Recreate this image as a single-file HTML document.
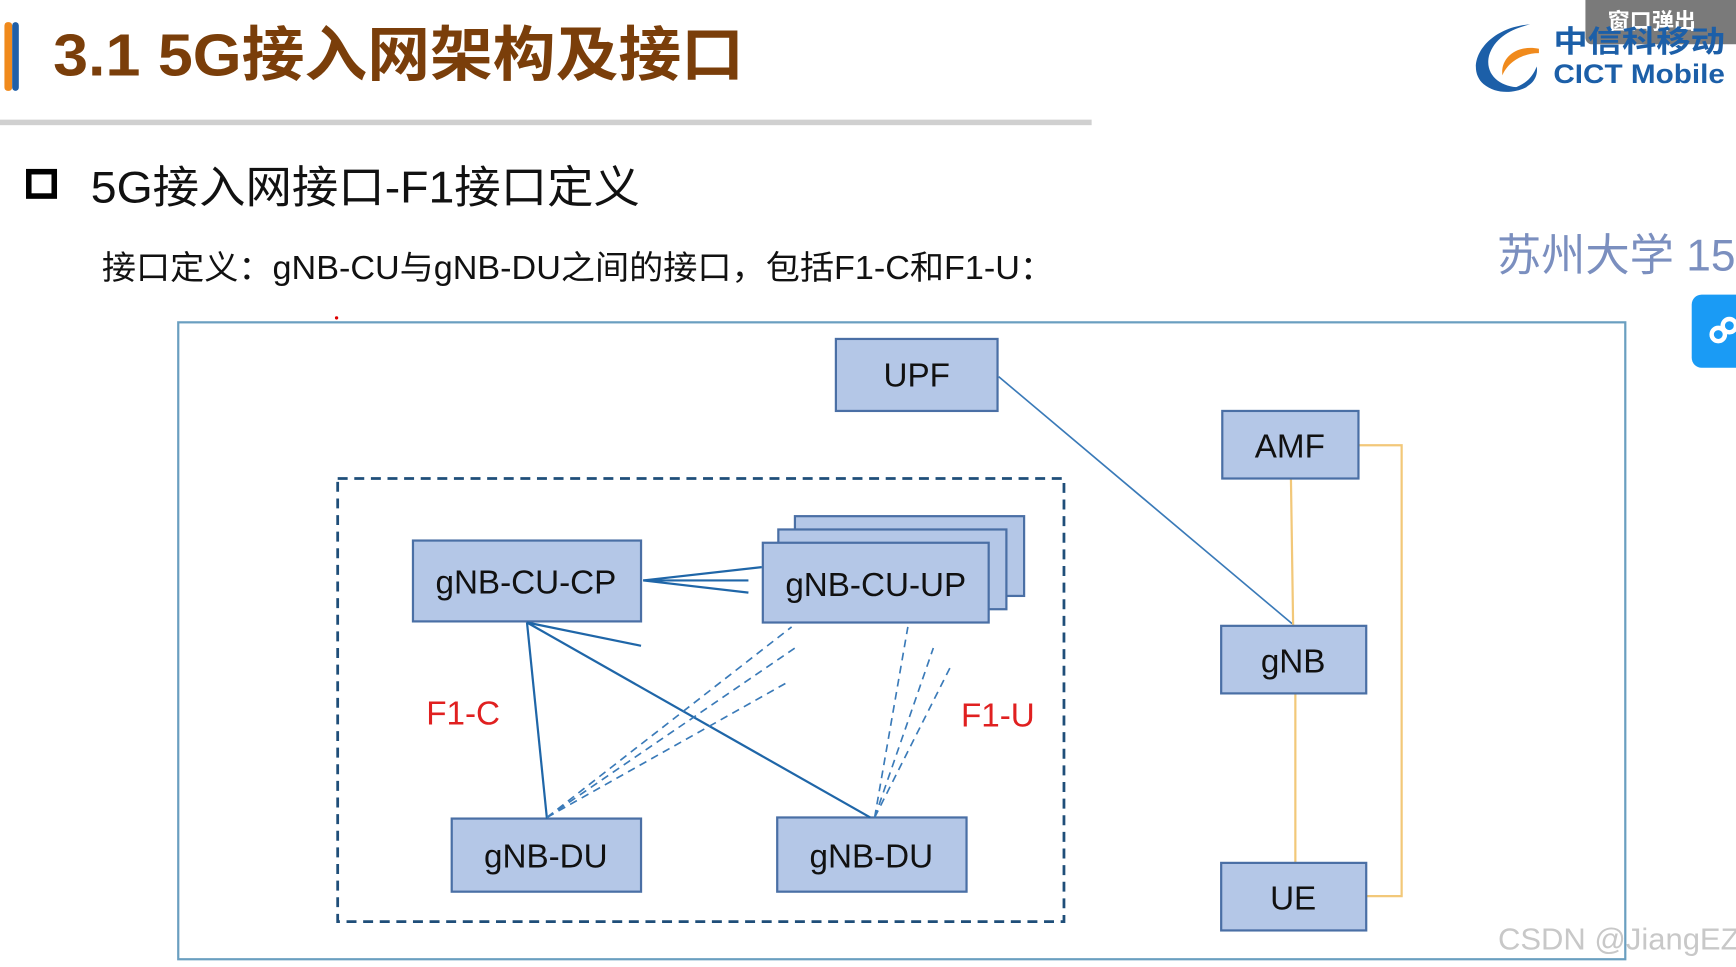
<!DOCTYPE html>
<html><head><meta charset="utf-8"><style>
html,body{margin:0;padding:0;background:#fff;width:1736px;height:967px;overflow:hidden}
svg{display:block}
text{font-family:"Liberation Sans","Noto Sans CJK SC",sans-serif}
</style></head><body>
<svg width="1736" height="967" viewBox="0 0 1568 873" preserveAspectRatio="none" xmlns="http://www.w3.org/2000/svg">
<rect x="0" y="0" width="1568" height="873" fill="#fff"/>
<rect x="4" y="20" width="7" height="62" rx="3" fill="#f08a1c"/>
<rect x="11" y="20" width="6" height="62" rx="3" fill="#1f5fa8"/>
<text x="48" y="68" font-size="54" font-weight="bold" fill="#7a3e0a" textLength="624" lengthAdjust="spacingAndGlyphs">3.1 5G接入网架构及接口</text>
<rect x="0" y="108" width="986" height="5" fill="#d0d0d0"/>
<rect x="26" y="155" width="23" height="22" fill="none" stroke="#000" stroke-width="5"/>
<text x="82" y="183" font-size="40" fill="#111" textLength="496" lengthAdjust="spacingAndGlyphs">5G接入网接口-F1接口定义</text>
<text x="92" y="252" font-size="30" fill="#111" textLength="860" lengthAdjust="spacingAndGlyphs">接口定义：gNB-CU与gNB-DU之间的接口，包括F1-C和F1-U：</text>
<circle cx="304" cy="287" r="1.5" fill="#d00"/>
<text x="1352" y="244" font-size="40" fill="#7b8fbf">苏州大学 15</text>
<rect x="1432" y="-6" width="150" height="46" rx="6" fill="#7a7a7a"/>
<text x="1452" y="26" font-size="20" font-weight="bold" fill="#fff">窗口弹出</text>
<path d="M1382 22 C1340 25 1322 60 1340 76 C1352 86 1370 84 1380 78 C1360 82 1340 70 1345 50 C1350 34 1365 26 1382 22Z" fill="#1c5fa8"/>
<path d="M1390 44 C1370 40 1355 52 1357 68 C1362 56 1375 48 1390 48Z" fill="#f08a1c"/>
<path d="M1388 60 C1390 72 1380 82 1366 80 C1378 76 1384 70 1388 60Z" fill="#1c5fa8"/>
<text x="1403" y="47" font-size="27" font-weight="bold" fill="#1c5fa8" textLength="155" lengthAdjust="spacingAndGlyphs">中信科移动</text>
<text x="1403" y="75" font-size="24" font-weight="bold" fill="#1c5fa8" textLength="155" lengthAdjust="spacingAndGlyphs">CICT Mobile</text>
<rect x="1528" y="266" width="50" height="66" rx="9" fill="#1a9bf5"/>
<circle cx="1552" cy="302" r="6" fill="none" stroke="#fff" stroke-width="4"/>
<circle cx="1562" cy="294" r="6" fill="none" stroke="#fff" stroke-width="4"/>
<rect x="161" y="291" width="1307" height="575" fill="none" stroke="#6a9fc0" stroke-width="2"/>
<rect x="305" y="432" width="656" height="400" fill="none" stroke="#1f4e79" stroke-width="2.5" stroke-dasharray="9,6"/>
<g stroke="#3a7ab8" stroke-width="1.5" fill="none">
<line x1="902" y1="340" x2="1167" y2="563"/>
</g>
<g stroke="#f2c879" stroke-width="2" fill="none">
<line x1="1166" y1="432" x2="1168" y2="565"/>
<line x1="1170" y1="626" x2="1170" y2="779"/>
<polyline points="1227,402 1266,402 1266,809 1234,809"/>
</g>
<g fill="#b4c7e7" stroke="#4a6fa5" stroke-width="2">
<rect x="755" y="306" width="146" height="65"/>
<rect x="1104" y="371" width="123" height="61"/>
<rect x="1103" y="565" width="131" height="61"/>
<rect x="1103" y="779" width="131" height="61"/>
<rect x="373" y="488" width="206" height="73"/>
<rect x="718" y="466" width="207" height="72"/>
<rect x="703" y="478" width="206" height="72"/>
<rect x="689" y="490" width="204" height="72"/>
<rect x="408" y="739" width="171" height="66"/>
<rect x="702" y="738" width="171" height="67"/>
</g>
<g stroke="#1f66a8" stroke-width="2" fill="none">
<line x1="581" y1="524" x2="688" y2="512"/>
<line x1="581" y1="524" x2="676" y2="524"/>
<line x1="581" y1="524" x2="676" y2="535"/>
<line x1="476" y1="562" x2="494" y2="739"/>
<line x1="476" y1="562" x2="786" y2="738"/>
<line x1="476" y1="562" x2="579" y2="583"/>
</g>
<g stroke="#3a7ab8" stroke-width="1.5" fill="none" stroke-dasharray="7,5">
<line x1="494" y1="738" x2="715" y2="566"/>
<line x1="494" y1="738" x2="718" y2="585"/>
<line x1="494" y1="738" x2="713" y2="615"/>
<line x1="790" y1="738" x2="820" y2="566"/>
<line x1="790" y1="738" x2="843" y2="585"/>
<line x1="790" y1="738" x2="858" y2="603"/>
</g>
<g font-size="30" fill="#111" text-anchor="middle">
<text x="828" y="349">UPF</text>
<text x="1165" y="413">AMF</text>
<text x="1168" y="607">gNB</text>
<text x="1168" y="821">UE</text>
<text x="475" y="536">gNB-CU-CP</text>
<text x="791" y="538">gNB-CU-UP</text>
<text x="493" y="783">gNB-DU</text>
<text x="787" y="783">gNB-DU</text>
</g>
<text x="385" y="654" font-size="30" fill="#e02020">F1-C</text>
<text x="868" y="656" font-size="30" fill="#e02020">F1-U</text>
<text x="1353" y="857" font-size="28" fill="#c8c8c8">CSDN @JiangEZ</text>
</svg>
</body></html>
